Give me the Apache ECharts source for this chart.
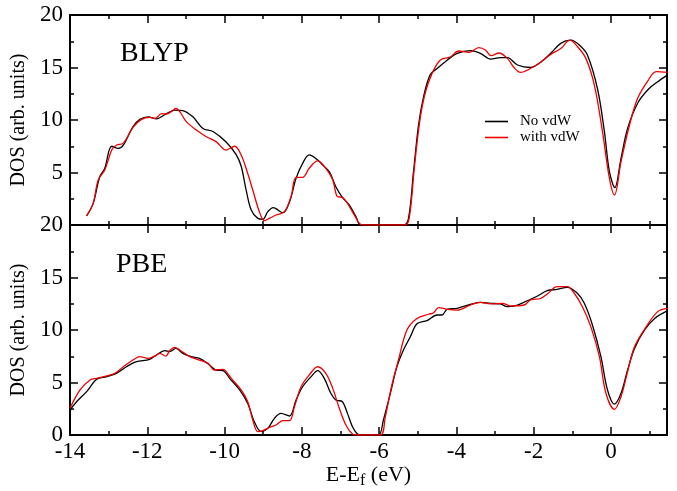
<!DOCTYPE html>
<html>
<head>
<meta charset="utf-8">
<script src="https://cdn.jsdelivr.net/npm/echarts@6/dist/echarts.min.js"></script>
<style>
  html, body { margin: 0; padding: 0; background: #fff; }
  #chart { width: 677px; height: 491px; }
</style>
</head>
<body>
<div id="chart"></div>
<script>
// [E - Ef (eV), DOS]
var blypNoVdw = [[-13.57,0.86],[-13.4,2.06],[-13.23,4.6],[-13.1,5.4],[-12.92,7.5],[-12.75,7.3],[-12.62,7.6],[-12.37,9.37],[-12.19,10.06],[-11.98,10.3],[-11.76,10.1],[-11.55,10.5],[-11.29,10.95],[-11.08,10.9],[-10.82,10.3],[-10.56,9.2],[-10.3,8.9],[-9.96,7.9],[-9.7,6.7],[-9.57,5.6],[-9.44,3.3],[-9.31,1.43],[-9.14,0.63],[-9.01,0.54],[-8.88,1.27],[-8.74,1.65],[-8.49,1.17],[-8.32,2.2],[-8.15,4.44],[-7.98,5.87],[-7.81,6.67],[-7.59,6.2],[-7.46,5.7],[-7.29,5.08],[-7.12,3.65],[-6.95,2.63],[-6.77,1.9],[-6.6,0.8],[-6.47,0],[-5.37,0],[-5.24,0.63],[-5.11,5.08],[-4.98,9.52],[-4.85,12.2],[-4.68,14.3],[-4.5,14.9],[-4.24,15.7],[-3.98,16.35],[-3.64,16.6],[-3.38,16.35],[-3.12,15.8],[-2.86,15.94],[-2.68,15.94],[-2.42,15.24],[-2.08,15.0],[-1.82,15.5],[-1.56,16.35],[-1.3,17.3],[-1.04,17.6],[-0.82,17.14],[-0.61,16.2],[-0.35,13.0],[-0.17,8.9],[-0.04,5.08],[0.1,3.56],[0.26,6.35],[0.43,9.2],[0.69,11.6],[0.95,12.86],[1.21,13.65],[1.47,14.3]];
var blypVdw = [[-13.57,0.86],[-13.4,2.06],[-13.27,4.3],[-13.1,5.24],[-12.92,7.14],[-12.8,7.6],[-12.62,7.8],[-12.37,9.3],[-12.15,10.06],[-11.94,10.25],[-11.8,10.15],[-11.63,10.6],[-11.5,10.57],[-11.38,10.8],[-11.26,11.1],[-11.16,10.8],[-10.99,9.84],[-10.73,9.05],[-10.47,8.4],[-10.22,7.94],[-9.96,7.14],[-9.74,7.5],[-9.57,6.67],[-9.4,4.9],[-9.27,3.33],[-9.1,1.27],[-8.97,0.41],[-8.84,0.63],[-8.67,0.95],[-8.45,1.27],[-8.28,2.7],[-8.15,4.54],[-7.98,4.54],[-7.81,5.4],[-7.59,6.1],[-7.38,5.4],[-7.2,4.3],[-7.08,2.7],[-6.95,2.63],[-6.82,2.06],[-6.64,0.95],[-6.43,0],[-5.32,0],[-5.21,0.95],[-5.09,5.4],[-4.95,9.84],[-4.81,12.54],[-4.63,14.44],[-4.42,15.7],[-4.16,16.0],[-3.94,16.57],[-3.68,16.44],[-3.42,16.9],[-3.25,16.67],[-3.1,16.13],[-2.9,16.38],[-2.68,15.87],[-2.51,15.0],[-2.34,14.54],[-2.12,14.83],[-1.82,15.5],[-1.56,16.25],[-1.3,16.8],[-1.06,17.6],[-0.87,17.0],[-0.65,15.87],[-0.43,13.33],[-0.22,8.9],[-0.04,4.44],[0.09,2.86],[0.26,6.03],[0.48,9.52],[0.69,12.06],[0.95,13.7],[1.17,14.6],[1.47,14.54]];
var pbeNoVdw = [[-14,2.38],[-13.83,3.17],[-13.57,4.13],[-13.31,5.3],[-13.05,5.56],[-12.8,5.87],[-12.54,6.5],[-12.28,6.98],[-11.94,7.2],[-11.76,7.62],[-11.55,8.03],[-11.42,7.94],[-11.26,8.25],[-11.08,7.78],[-10.86,7.46],[-10.65,7.3],[-10.39,6.67],[-10.22,6.19],[-10.04,6.13],[-9.87,5.4],[-9.61,4.29],[-9.4,3.0],[-9.23,1.27],[-9.05,0.32],[-8.88,0.63],[-8.71,1.59],[-8.54,2.06],[-8.32,1.81],[-8.15,3.33],[-7.98,4.6],[-7.76,5.56],[-7.59,6.13],[-7.42,5.4],[-7.25,3.97],[-7.12,3.33],[-6.95,3.17],[-6.82,2.06],[-6.69,0.79],[-6.56,0.1],[-6.43,0],[-6.02,0],[-5.89,1.43],[-5.71,3.97],[-5.54,6.5],[-5.37,8.1],[-5.19,9.37],[-5.02,10.6],[-4.76,10.9],[-4.5,11.43],[-4.37,11.43],[-4.24,11.97],[-3.98,12.06],[-3.64,12.44],[-3.38,12.63],[-3.12,12.54],[-2.86,12.48],[-2.68,12.22],[-2.42,12.38],[-2.16,12.8],[-1.9,13.24],[-1.65,13.75],[-1.39,13.87],[-1.13,14.06],[-0.87,13.5],[-0.69,12.54],[-0.48,10.48],[-0.26,7.46],[-0.09,4.29],[0.09,2.95],[0.26,3.97],[0.43,6.19],[0.61,8.25],[0.87,10.0],[1.13,11.1],[1.47,11.84]];
var pbeVdw = [[-14,2.54],[-13.74,4.29],[-13.48,5.24],[-13.31,5.4],[-13.05,5.62],[-12.84,5.87],[-12.62,6.5],[-12.37,7.14],[-12.19,7.46],[-11.98,7.3],[-11.8,7.52],[-11.68,7.78],[-11.52,7.52],[-11.42,8.03],[-11.29,8.35],[-11.16,8.1],[-10.9,7.46],[-10.65,7.14],[-10.43,6.83],[-10.26,6.19],[-10.04,6.25],[-9.83,5.4],[-9.57,4.29],[-9.4,3.17],[-9.27,1.43],[-9.14,0.32],[-9.01,0.41],[-8.84,0.73],[-8.67,0.95],[-8.49,1.37],[-8.32,1.37],[-8.19,2.7],[-8.02,4.6],[-7.81,5.71],[-7.59,6.5],[-7.38,5.87],[-7.2,4.44],[-7.03,2.54],[-6.86,0.95],[-6.69,0.1],[-6.56,0],[-5.97,0],[-5.84,1.75],[-5.67,4.76],[-5.5,7.14],[-5.28,10.0],[-5.02,11.1],[-4.72,11.5],[-4.59,11.65],[-4.46,12.13],[-4.24,11.97],[-3.98,11.9],[-3.64,12.38],[-3.38,12.63],[-3.12,12.48],[-2.81,12.54],[-2.6,12.29],[-2.25,12.38],[-2.08,12.86],[-1.82,13.0],[-1.65,13.43],[-1.39,14.13],[-1.13,14.13],[-0.95,13.5],[-0.74,12.22],[-0.52,10.3],[-0.3,7.46],[-0.13,3.97],[0.09,2.44],[0.26,3.65],[0.43,6.03],[0.61,8.41],[0.91,10.3],[1.21,11.75],[1.47,12.06]];

var xMin = -14, xMax = 1.45;
var seriesNames = ["No vdW", "with vdW"];
var panelNames = ["BLYP", "PBE"];

var FONT = "Liberation Serif";
var lineStyleAxis = { color: "#000", width: 2 };
var tickStyle = { color: "#000", width: 1.5 };

function xAxesFor(grid, withLabels) {
  var base = {
    gridIndex: grid, type: "value", min: xMin, max: xMax,
    splitLine: { show: false }
  };
  return [
    Object.assign({}, base, {
      position: "bottom", interval: 2,
      axisLine: { show: true, onZero: false, lineStyle: lineStyleAxis },
      axisTick: { show: true, inside: true, length: 8, lineStyle: tickStyle },
      axisLabel: {
        show: withLabels, showMaxLabel: false, margin: 5,
        color: "#000", fontFamily: FONT, fontSize: 23
      },
      name: withLabels ? "{a|E-E}{s|f}{a| (eV)}" : "",
      nameLocation: "middle", nameGap: 20,
      nameTextStyle: {
        rich: {
          a: { fontFamily: FONT, fontSize: 22, color: "#000" },
          s: { fontFamily: FONT, fontSize: 16, color: "#000", padding: [12, 0, 0, 0] }
        }
      }
    }),
    Object.assign({}, base, {
      position: "bottom", interval: 1,
      axisLine: { show: false, onZero: false },
      axisTick: { show: true, inside: true, length: 4, lineStyle: tickStyle },
      axisLabel: { show: false }
    }),
    Object.assign({}, base, {
      position: "top", interval: 2,
      axisLine: { show: true, onZero: false, lineStyle: lineStyleAxis },
      axisTick: { show: true, inside: true, length: 8, lineStyle: tickStyle },
      axisLabel: { show: false }
    }),
    Object.assign({}, base, {
      position: "top", interval: 1,
      axisLine: { show: false, onZero: false },
      axisTick: { show: true, inside: true, length: 4, lineStyle: tickStyle },
      axisLabel: { show: false }
    })
  ];
}

function yAxesFor(grid, showZero) {
  var base = {
    gridIndex: grid, type: "value", min: 0, max: 20, interval: 5,
    splitLine: { show: false },
    axisLine: { show: true, onZero: false, lineStyle: lineStyleAxis },
    axisTick: { show: true, inside: true, length: 8, lineStyle: tickStyle },
    minorTick: { show: true, splitNumber: 2, length: 4, lineStyle: tickStyle }
  };
  return [
    Object.assign({}, base, {
      position: "left",
      axisLabel: {
        show: true, showMinLabel: showZero, margin: 7,
        color: "#000", fontFamily: FONT, fontSize: 23
      },
      name: "DOS (arb. units)", nameLocation: "middle", nameGap: 38,
      nameTextStyle: { fontFamily: FONT, fontSize: 20, color: "#000" }
    }),
    Object.assign({}, base, {
      position: "right",
      axisLabel: { show: false }
    })
  ];
}

function curve(name, data, color, grid) {
  return {
    name: name, type: "line", data: data,
    xAxisIndex: grid * 4, yAxisIndex: grid * 2,
    showSymbol: false, smooth: 0.35, clip: true,
    lineStyle: { color: color, width: 1.3 },
    itemStyle: { color: color },
    emphasis: { disabled: true }
  };
}

var chart = echarts.init(document.getElementById("chart"), null, { renderer: "canvas" });

var option = {
  animation: false,
  backgroundColor: "#fff",
  grid: [
    { left: 70, right: 10, top: 15, height: 210 },
    { left: 70, right: 10, top: 225, height: 210 }
  ],
  xAxis: xAxesFor(0, false).concat(xAxesFor(1, true)),
  yAxis: yAxesFor(0, false).concat(yAxesFor(1, true)),
  legend: {
    data: seriesNames,
    orient: "vertical",
    left: 480, top: 109,
    icon: "rect", itemWidth: 23, itemHeight: 1.6, itemGap: 1,
    textStyle: { fontFamily: FONT, fontSize: 15, color: "#000", lineHeight: 15, padding: [0, 0, 0, 7] }
  },
  graphic: [
    { type: "text", left: 120, top: 40, style: { text: panelNames[0], font: "28px " + FONT, fill: "#000" } },
    { type: "text", left: 116, top: 251, style: { text: panelNames[1], font: "28px " + FONT, fill: "#000" } }
  ],
  series: [
    curve(seriesNames[0], blypNoVdw, "#000000", 0),
    curve(seriesNames[1], blypVdw, "#ee0000", 0),
    curve(seriesNames[0], pbeNoVdw, "#000000", 1),
    curve(seriesNames[1], pbeVdw, "#ee0000", 1)
  ]
};

chart.setOption(option);
</script>
</body>
</html>
